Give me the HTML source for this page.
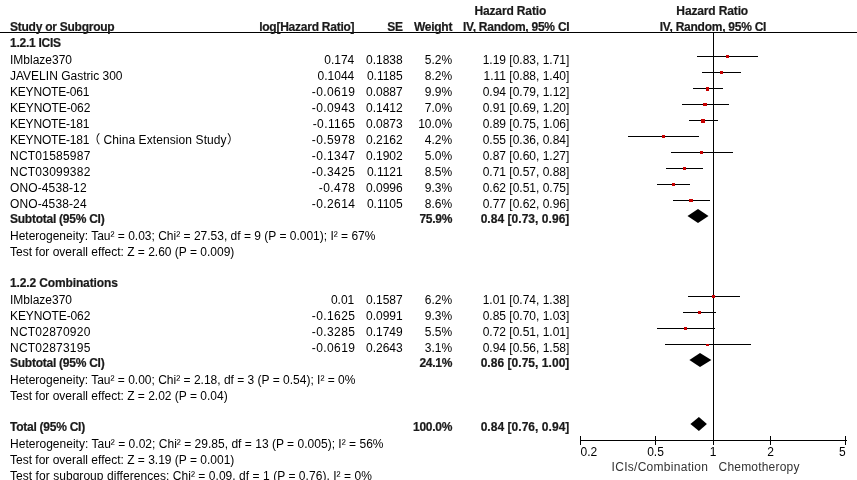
<!DOCTYPE html>
<html><head><meta charset="utf-8"><title>Forest plot</title>
<style>
html,body{margin:0;padding:0;background:#fff}
svg{display:block}
text{font-family:"Liberation Sans","Noto Sans CJK SC",sans-serif;font-size:12px;white-space:pre}
.b{font-weight:bold;letter-spacing:-0.25px;stroke:#1a1a1a;stroke-width:0.2px}
</style></head><body>
<svg width="857" height="480" viewBox="0 0 857 480">
<rect width="857" height="480" fill="#fff"/>
<g shape-rendering="crispEdges">
<rect x="0" y="32" width="857" height="1" fill="#000"/>
<rect x="713" y="32" width="1" height="413" fill="#000"/>
<rect x="580" y="440" width="267" height="1" fill="#000"/>
<rect x="580" y="436" width="1" height="9" fill="#000"/>
<rect x="655" y="436" width="1" height="9" fill="#000"/>
<rect x="713" y="436" width="1" height="9" fill="#000"/>
<rect x="770" y="436" width="1" height="9" fill="#000"/>
<rect x="845" y="436" width="1" height="9" fill="#000"/>
<rect x="697" y="56" width="61" height="1" fill="#000"/>
<rect x="726" y="55" width="3" height="3" fill="#c80000"/>
<rect x="702" y="72" width="39" height="1" fill="#000"/>
<rect x="720" y="71" width="3" height="3" fill="#c80000"/>
<rect x="693" y="88" width="30" height="1" fill="#000"/>
<rect x="706" y="87" width="3" height="4" fill="#c80000"/>
<rect x="682" y="104" width="47" height="1" fill="#000"/>
<rect x="703" y="103" width="4" height="3" fill="#c80000"/>
<rect x="689" y="120" width="29" height="1" fill="#000"/>
<rect x="701" y="119" width="4" height="4" fill="#c80000"/>
<rect x="628" y="136" width="71" height="1" fill="#000"/>
<rect x="662" y="135" width="3" height="3" fill="#c80000"/>
<rect x="671" y="152" width="62" height="1" fill="#000"/>
<rect x="700" y="151" width="3" height="3" fill="#c80000"/>
<rect x="666" y="168" width="37" height="1" fill="#000"/>
<rect x="683" y="167" width="3" height="3" fill="#c80000"/>
<rect x="657" y="184" width="33" height="1" fill="#000"/>
<rect x="672" y="183" width="3" height="3" fill="#c80000"/>
<rect x="673" y="200" width="37" height="1" fill="#000"/>
<rect x="689" y="199" width="4" height="3" fill="#c80000"/>
<rect x="688" y="296" width="52" height="1" fill="#000"/>
<rect x="712" y="295" width="3" height="3" fill="#c80000"/>
<rect x="683" y="312" width="33" height="1" fill="#000"/>
<rect x="698" y="311" width="3" height="3" fill="#c80000"/>
<rect x="657" y="328" width="58" height="1" fill="#000"/>
<rect x="684" y="327" width="3" height="3" fill="#c80000"/>
<rect x="665" y="344" width="86" height="1" fill="#000"/>
<rect x="706" y="344" width="3" height="2" fill="#c80000"/>
</g>
<g>
<polygon points="687.5,216.0 698,209 708.5,216.0 698,223" fill="#000"/>
<polygon points="689.4,360.0 700,353 711.4,360.0 700,367" fill="#000"/>
<polygon points="690.4,424.0 698.9,417 706.9,424.0 698.9,431" fill="#000"/>
</g>
<g xml:space="preserve">
<text class="b" x="10" y="31" fill="#1a1a1a">Study or Subgroup</text>
<text class="b" x="354.3" y="31" text-anchor="end" fill="#1a1a1a">log[Hazard Ratio]</text>
<text class="b" x="402.7" y="31" text-anchor="end" fill="#1a1a1a">SE</text>
<text class="b" x="452.2" y="31" text-anchor="end" fill="#1a1a1a">Weight</text>
<text class="b" x="569.4" y="31" text-anchor="end" fill="#1a1a1a">IV, Random, 95% CI</text>
<text class="b" x="510.3" y="15" text-anchor="middle" fill="#1a1a1a" style="letter-spacing:-0.14px">Hazard Ratio</text>
<text class="b" x="712.2" y="15" text-anchor="middle" fill="#1a1a1a" style="letter-spacing:-0.14px">Hazard Ratio</text>
<text class="b" x="713" y="31" text-anchor="middle" fill="#1a1a1a">IV, Random, 95% CI</text>
<text class="b" x="10" y="47" fill="#1a1a1a">1.2.1 ICIS</text>
<text class="n" x="10" y="64" fill="#000">IMblaze370</text>
<text class="n" x="354.3" y="64" text-anchor="end" fill="#000">0.174</text>
<text class="n" x="402.7" y="64" text-anchor="end" fill="#000">0.1838</text>
<text class="n" x="452.2" y="64" text-anchor="end" fill="#000">5.2%</text>
<text class="n" x="569.4" y="64" text-anchor="end" fill="#000">1.19 [0.83, 1.71]</text>
<text class="n" x="10" y="80" fill="#000">JAVELIN Gastric 300</text>
<text class="n" x="354.3" y="80" text-anchor="end" fill="#000">0.1044</text>
<text class="n" x="402.7" y="80" text-anchor="end" fill="#000">0.1185</text>
<text class="n" x="452.2" y="80" text-anchor="end" fill="#000">8.2%</text>
<text class="n" x="569.4" y="80" text-anchor="end" fill="#000">1.11 [0.88, 1.40]</text>
<text class="n" x="10" y="96" fill="#000" style="letter-spacing:-0.2px">KEYNOTE-061</text>
<text class="n" x="355.3" y="96" text-anchor="end" fill="#000" style="letter-spacing:0.4px">-0.0619</text>
<text class="n" x="402.7" y="96" text-anchor="end" fill="#000">0.0887</text>
<text class="n" x="452.2" y="96" text-anchor="end" fill="#000">9.9%</text>
<text class="n" x="569.4" y="96" text-anchor="end" fill="#000">0.94 [0.79, 1.12]</text>
<text class="n" x="10" y="112" fill="#000" style="letter-spacing:-0.1px">KEYNOTE-062</text>
<text class="n" x="355.3" y="112" text-anchor="end" fill="#000" style="letter-spacing:0.4px">-0.0943</text>
<text class="n" x="402.7" y="112" text-anchor="end" fill="#000">0.1412</text>
<text class="n" x="452.2" y="112" text-anchor="end" fill="#000">7.0%</text>
<text class="n" x="569.4" y="112" text-anchor="end" fill="#000">0.91 [0.69, 1.20]</text>
<text class="n" x="10" y="128" fill="#000" style="letter-spacing:-0.2px">KEYNOTE-181</text>
<text class="n" x="355.3" y="128" text-anchor="end" fill="#000" style="letter-spacing:0.4px">-0.1165</text>
<text class="n" x="402.7" y="128" text-anchor="end" fill="#000">0.0873</text>
<text class="n" x="452.2" y="128" text-anchor="end" fill="#000">10.0%</text>
<text class="n" x="569.4" y="128" text-anchor="end" fill="#000">0.89 [0.75, 1.06]</text>
<text class="n" x="10" y="144" fill="#000"><tspan style="letter-spacing:-0.2px">KEYNOTE-181</tspan><tspan dx="-0.8">（</tspan><tspan dx="3" style="letter-spacing:0.09px">China Extension Study</tspan><tspan dx="0.3">）</tspan></text>
<text class="n" x="355.3" y="144" text-anchor="end" fill="#000" style="letter-spacing:0.4px">-0.5978</text>
<text class="n" x="402.7" y="144" text-anchor="end" fill="#000">0.2162</text>
<text class="n" x="452.2" y="144" text-anchor="end" fill="#000">4.2%</text>
<text class="n" x="569.4" y="144" text-anchor="end" fill="#000">0.55 [0.36, 0.84]</text>
<text class="n" x="10" y="160" fill="#000" style="letter-spacing:0.23px">NCT01585987</text>
<text class="n" x="355.3" y="160" text-anchor="end" fill="#000" style="letter-spacing:0.4px">-0.1347</text>
<text class="n" x="402.7" y="160" text-anchor="end" fill="#000">0.1902</text>
<text class="n" x="452.2" y="160" text-anchor="end" fill="#000">5.0%</text>
<text class="n" x="569.4" y="160" text-anchor="end" fill="#000">0.87 [0.60, 1.27]</text>
<text class="n" x="10" y="176" fill="#000" style="letter-spacing:0.23px">NCT03099382</text>
<text class="n" x="355.3" y="176" text-anchor="end" fill="#000" style="letter-spacing:0.4px">-0.3425</text>
<text class="n" x="402.7" y="176" text-anchor="end" fill="#000">0.1121</text>
<text class="n" x="452.2" y="176" text-anchor="end" fill="#000">8.5%</text>
<text class="n" x="569.4" y="176" text-anchor="end" fill="#000">0.71 [0.57, 0.88]</text>
<text class="n" x="10" y="192" fill="#000" style="letter-spacing:0.12px">ONO-4538-12</text>
<text class="n" x="355.3" y="192" text-anchor="end" fill="#000" style="letter-spacing:0.4px">-0.478</text>
<text class="n" x="402.7" y="192" text-anchor="end" fill="#000">0.0996</text>
<text class="n" x="452.2" y="192" text-anchor="end" fill="#000">9.3%</text>
<text class="n" x="569.4" y="192" text-anchor="end" fill="#000">0.62 [0.51, 0.75]</text>
<text class="n" x="10" y="208" fill="#000" style="letter-spacing:0.12px">ONO-4538-24</text>
<text class="n" x="355.3" y="208" text-anchor="end" fill="#000" style="letter-spacing:0.4px">-0.2614</text>
<text class="n" x="402.7" y="208" text-anchor="end" fill="#000">0.1105</text>
<text class="n" x="452.2" y="208" text-anchor="end" fill="#000">8.6%</text>
<text class="n" x="569.4" y="208" text-anchor="end" fill="#000">0.77 [0.62, 0.96]</text>
<text class="b" x="10" y="223" fill="#1a1a1a">Subtotal (95% CI)</text>
<text class="b" x="452.2" y="223" text-anchor="end" fill="#1a1a1a">75.9%</text>
<text class="b" x="569.4" y="223" text-anchor="end" fill="#1a1a1a" style="letter-spacing:0.04px">0.84 [0.73, 0.96]</text>
<text class="n" x="10" y="240" fill="#000">Heterogeneity: Tau² = 0.03; Chi² = 27.53, df = 9 (P = 0.001); I² = 67%</text>
<text class="n" x="10" y="256" fill="#000">Test for overall effect: Z = 2.60 (P = 0.009)</text>
<text class="b" x="10" y="287" fill="#1a1a1a" style="letter-spacing:-0.13px">1.2.2 Combinations</text>
<text class="n" x="10" y="304" fill="#000">IMblaze370</text>
<text class="n" x="354.3" y="304" text-anchor="end" fill="#000">0.01</text>
<text class="n" x="402.7" y="304" text-anchor="end" fill="#000">0.1587</text>
<text class="n" x="452.2" y="304" text-anchor="end" fill="#000">6.2%</text>
<text class="n" x="569.4" y="304" text-anchor="end" fill="#000">1.01 [0.74, 1.38]</text>
<text class="n" x="10" y="320" fill="#000" style="letter-spacing:-0.1px">KEYNOTE-062</text>
<text class="n" x="355.3" y="320" text-anchor="end" fill="#000" style="letter-spacing:0.4px">-0.1625</text>
<text class="n" x="402.7" y="320" text-anchor="end" fill="#000">0.0991</text>
<text class="n" x="452.2" y="320" text-anchor="end" fill="#000">9.3%</text>
<text class="n" x="569.4" y="320" text-anchor="end" fill="#000">0.85 [0.70, 1.03]</text>
<text class="n" x="10" y="336" fill="#000" style="letter-spacing:0.23px">NCT02870920</text>
<text class="n" x="355.3" y="336" text-anchor="end" fill="#000" style="letter-spacing:0.4px">-0.3285</text>
<text class="n" x="402.7" y="336" text-anchor="end" fill="#000">0.1749</text>
<text class="n" x="452.2" y="336" text-anchor="end" fill="#000">5.5%</text>
<text class="n" x="569.4" y="336" text-anchor="end" fill="#000">0.72 [0.51, 1.01]</text>
<text class="n" x="10" y="352" fill="#000" style="letter-spacing:0.23px">NCT02873195</text>
<text class="n" x="355.3" y="352" text-anchor="end" fill="#000" style="letter-spacing:0.4px">-0.0619</text>
<text class="n" x="402.7" y="352" text-anchor="end" fill="#000">0.2643</text>
<text class="n" x="452.2" y="352" text-anchor="end" fill="#000">3.1%</text>
<text class="n" x="569.4" y="352" text-anchor="end" fill="#000">0.94 [0.56, 1.58]</text>
<text class="b" x="10" y="367" fill="#1a1a1a">Subtotal (95% CI)</text>
<text class="b" x="452.2" y="367" text-anchor="end" fill="#1a1a1a">24.1%</text>
<text class="b" x="569.4" y="367" text-anchor="end" fill="#1a1a1a" style="letter-spacing:0.04px">0.86 [0.75, 1.00]</text>
<text class="n" x="10" y="384" fill="#000">Heterogeneity: Tau² = 0.00; Chi² = 2.18, df = 3 (P = 0.54); I² = 0%</text>
<text class="n" x="10" y="400" fill="#000">Test for overall effect: Z = 2.02 (P = 0.04)</text>
<text class="b" x="10" y="431" fill="#1a1a1a">Total (95% CI)</text>
<text class="b" x="452.2" y="431" text-anchor="end" fill="#1a1a1a">100.0%</text>
<text class="b" x="569.4" y="431" text-anchor="end" fill="#1a1a1a" style="letter-spacing:0.04px">0.84 [0.76, 0.94]</text>
<text class="n" x="10" y="448" fill="#000" style="letter-spacing:0.02px">Heterogeneity: Tau² = 0.02; Chi² = 29.85, df = 13 (P = 0.005); I² = 56%</text>
<text class="n" x="10" y="464" fill="#000">Test for overall effect: Z = 3.19 (P = 0.001)</text>
<text class="n" x="10" y="480" fill="#000" style="letter-spacing:0.05px">Test for subgroup differences: Chi² = 0.09, df = 1 (P = 0.76), I² = 0%</text>
<text class="n" x="580.5" y="456" fill="#000">0.2</text>
<text class="n" x="655.5" y="456" text-anchor="middle" fill="#000">0.5</text>
<text class="n" x="713" y="456" text-anchor="middle" fill="#000">1</text>
<text class="n" x="770.6" y="456" text-anchor="middle" fill="#000">2</text>
<text class="n" x="845.8" y="456" text-anchor="end" fill="#000">5</text>
<text class="n" x="611.6" y="471" fill="#333" textLength="96.3">ICIs/Combination</text>
<text class="n" x="718.6" y="471" fill="#333" textLength="80.8">Chemotheropy</text>
</g>
</svg>
</body></html>
